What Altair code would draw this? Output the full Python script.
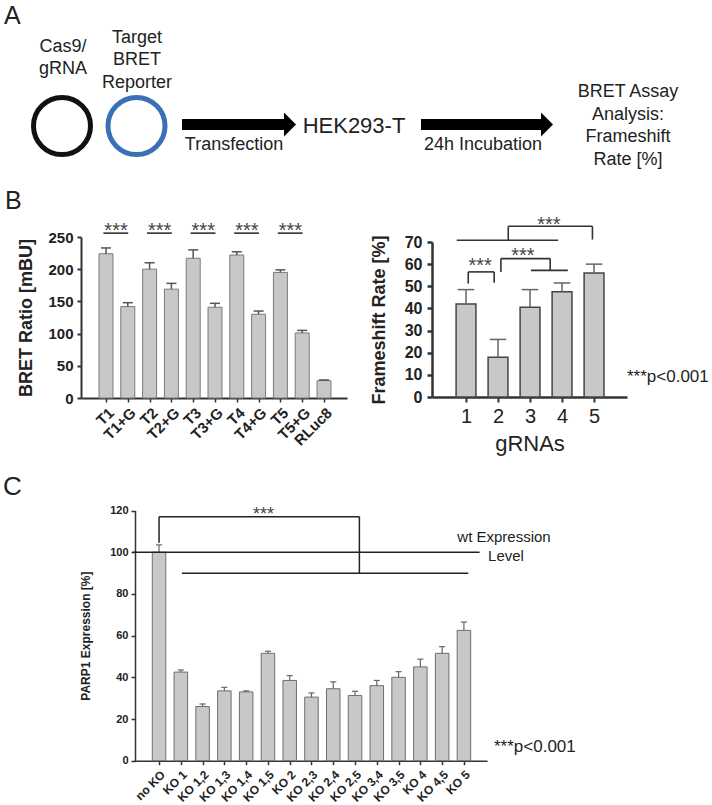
import json
import altair as alt
import pandas as pd

FONT = "Liberation Sans"
INK = "#222222"
AXIS = "#333333"
BAR_FILL = "#c8c8c8"
STAR = "#444444"

# ---------------- data ----------------
# Panel B (left): BRET ratio per reporter construct, mean and SD
bret_labels = ["T1", "T1+G", "T2", "T2+G", "T3", "T3+G", "T4", "T4+G", "T5", "T5+G", "RLuc8"]
bret_values = [224, 142, 200, 169, 217, 141, 222, 130, 195, 101, 27]
bret_errors = [9, 6, 10, 9, 13, 6, 5, 5, 4, 4, 1]
bret_sig_pairs = [("T1", "T1+G"), ("T2", "T2+G"), ("T3", "T3+G"), ("T4", "T4+G"), ("T5", "T5+G")]

# Panel B (right): frameshift rate per gRNA
grna_labels = [1, 2, 3, 4, 5]
fs_values = [42, 18, 40.5, 47.5, 56]
fs_errors = [6.5, 8, 8, 4, 4]

# Panel C: PARP1 expression after single / double knock-outs
ko_labels = ["no KO", "KO 1", "KO 1,2", "KO 1,3", "KO 1,4", "KO 1,5", "KO 2", "KO 2,3",
             "KO 2,4", "KO 2,5", "KO 3,4", "KO 3,5", "KO 4", "KO 4,5", "KO 5"]
parp_values = [100, 42.5, 26, 33.5, 33, 51.5, 38.5, 30.5, 34.5, 31.3, 36, 40, 45, 51.5, 62.5]
parp_errors = [3.5, 1, 1.2, 1.7, 0.5, 1, 2.3, 2, 3.3, 2, 2.5, 2.7, 3.7, 3.2, 4]
wt_level = 100

# significance brackets, in each panel's data units (x = category position)
fs_brackets = [
    (0.71, 70.8, 3.88, 70.8), (2.32, 70.8, 2.32, 77.1), (2.32, 77.1, 4.95, 77.1), (4.95, 77.1, 4.95, 71.1),
    (2.09, 56.5, 2.09, 62.5), (2.09, 62.5, 3.63, 62.5), (3.63, 62.5, 3.63, 57.2), (3.03, 57.2, 4.18, 57.2),
    (1.07, 51.2, 1.07, 56.5), (1.07, 56.5, 1.88, 56.5), (1.88, 56.5, 1.88, 51.6),
]
fs_stars = [(3.59, 75.0), (2.78, 61.1), (1.44, 56.6)]
ko_brackets = [
    (1.0, 104.5, 1.0, 117.0), (1.0, 117.0, 10.2, 117.0), (10.2, 117.0, 10.2, 89.9), (2.05, 89.9, 15.2, 89.9),
]
ko_wt_line = (-0.2, 15.72)
ko_stars = [(5.8, 115.6)]

# ---------------- schematic (panel A) and free text, in page pixels ----------------
center_text = [
    ("Cas9/", 63, 47, 18), ("gRNA", 63, 69, 18),
    ("Target", 137, 38, 18), ("BRET", 137, 60, 18), ("Reporter", 137, 83, 18),
    ("Transfection", 234, 145, 18), ("HEK293-T", 354, 126, 22), ("24h Incubation", 483, 145, 18),
    ("BRET Assay", 628, 92, 18), ("Analysis:", 628, 115, 18), ("Frameshift", 628, 137, 18),
    ("Rate [%]", 628, 160, 18),
    ("wt Expression", 504, 537, 15), ("Level", 506, 556, 15),
]
left_text = [
    ("A", 4, 16, 25), ("B", 5, 201, 25), ("C", 3, 487, 26),
    ("***p<0.001", 627, 377, 17), ("***p<0.001", 494, 747, 17),
]
plasmids = [("#111111", 62, 126), ("#3a70b5", 136.5, 126)]
arrow_shafts = [(182, 286, 124.5), (421, 543, 124.5)]
arrow_heads = [(290, 124.5), (547, 124.5)]
HEAD = "M-0.5,-1L0.5,0L-0.5,1Z"

W, H = 712, 805


def scale(domain, rng):
    return alt.Scale(domain=domain, range=rng, nice=False, zero=False)


PX = scale([0, W], [0, W])
PY = scale([0, H], [0, H])


def canvas():
    ct = pd.DataFrame(center_text, columns=["label", "x", "y", "size"])
    lt = pd.DataFrame(left_text, columns=["label", "x", "y", "size"])
    circ = pd.DataFrame(plasmids, columns=["color", "x", "y"])
    shafts = pd.DataFrame(arrow_shafts, columns=["x1", "x2", "y"])
    heads = pd.DataFrame(arrow_heads, columns=["x", "y"])

    def xy():
        return dict(x=alt.X("x:Q", scale=PX, axis=None), y=alt.Y("y:Q", scale=PY, axis=None))

    t1 = alt.Chart(ct).mark_text(font=FONT, color=INK, align="center", baseline="middle").encode(
        text="label:N", size=alt.Size("size:Q", scale=None), **xy())
    t2 = alt.Chart(lt).mark_text(font=FONT, color=INK, align="left", baseline="middle").encode(
        text="label:N", size=alt.Size("size:Q", scale=None), **xy())
    rings = alt.Chart(circ).mark_point(shape="circle", filled=False, size=3249, strokeWidth=5, opacity=1).encode(
        stroke=alt.Stroke("color:N", scale=None), **xy())
    sh = alt.Chart(shafts).mark_rule(color="#000000", strokeWidth=11, strokeCap="butt").encode(
        x=alt.X("x1:Q", scale=PX, axis=None), x2="x2", y=alt.Y("y:Q", scale=PY, axis=None))
    hd = alt.Chart(heads).mark_point(shape=HEAD, filled=True, size=576, color="#000000", opacity=1,
                                     strokeWidth=0).encode(**xy())
    return alt.layer(rings, sh, hd, t1, t2)


def bars_table(values, errors, half, cap):
    df = pd.DataFrame({"pos": list(range(1, len(values) + 1)), "value": values, "err": errors})
    df["lo"] = df.pos - half
    df["hi"] = df.pos + half
    df["top"] = df.value + df.err
    df["cl"] = df.pos - cap
    df["cr"] = df.pos + cap
    df["base"] = 0
    return df


class Frame:
    """Shared x/y scales and axes of one panel; every layer uses the same ones."""

    def __init__(self, xs, ys, xaxis, yaxis):
        self.xs, self.ys, self.xaxis, self.yaxis = xs, ys, xaxis, yaxis

    def x(self, field):
        return alt.X(f"{field}:Q", scale=self.xs, axis=self.xaxis)

    def y(self, field):
        return alt.Y(f"{field}:Q", scale=self.ys, axis=self.yaxis)


def bar_layers(df, f, stroke, sw, err_color, err_w):
    bars = alt.Chart(df).mark_rect(fill=BAR_FILL, stroke=stroke, strokeWidth=sw).encode(
        x=f.x("lo"), x2="hi", y=f.y("value"), y2="base")
    whisk = alt.Chart(df).mark_rule(color=err_color, strokeWidth=err_w).encode(
        x=f.x("pos"), y=f.y("value"), y2="top")
    caps = alt.Chart(df).mark_rule(color=err_color, strokeWidth=err_w).encode(
        x=f.x("cl"), x2="cr", y=f.y("top"))
    return [bars, whisk, caps]


def segments(rows, f, color=AXIS, width=1.6):
    df = pd.DataFrame(rows, columns=["x1", "y1", "x2", "y2"])
    return alt.Chart(df).mark_rule(color=color, strokeWidth=width).encode(
        x=f.x("x1"), x2="x2", y=f.y("y1"), y2="y2")


def stars(rows, f, size):
    df = pd.DataFrame(rows, columns=["x", "y"]).assign(label="***")
    return alt.Chart(df).mark_text(font=FONT, fontSize=size, color=STAR, align="center",
                                   baseline="alphabetic").encode(
        x=f.x("x"), y=f.y("y"), text="label:N")


def label_expr(labels):
    return f"{json.dumps(labels)}[datum.value - 1]"


# ---------------- panel B, left ----------------
bl = Frame(
    scale([-0.147, 12.055], [81, 347]),
    scale([0, 250], [398, 237]),
    alt.Axis(orient="bottom", offset=398 - H, values=list(range(1, len(bret_labels) + 1)),
             labelExpr=label_expr(bret_labels), labelAngle=-45, labelFontSize=15,
             labelFontWeight="bold", labelPadding=3, tickSize=4, tickWidth=1.5,
             domainWidth=2, labelFlush=False, labelOverlap=False, title=""),
    alt.Axis(orient="left", offset=-81, values=[0, 50, 100, 150, 200, 250], labelFontSize=15,
             labelFontWeight="bold", labelPadding=4, tickSize=4, tickWidth=2, domainWidth=2,
             labelOverlap=False, title="BRET Ratio [mBU]", titleFontSize=18,
             titleFontWeight="bold", titleX=-46),
)
bl_df = bars_table(bret_values, bret_errors, 0.32, 0.23)
bl_sig = []
for a, b in bret_sig_pairs:
    ia, ib = bret_labels.index(a) + 1, bret_labels.index(b) + 1
    bl_sig.append((ia - 0.12, 256, ib + 0.02, 256))
bl_star = [((bret_labels.index(a) + bret_labels.index(b)) / 2 + 1 - 0.04, 250) for a, b in bret_sig_pairs]
panel_bl = alt.layer(
    *bar_layers(bl_df, bl, "#7a7a7a", 1, "#555555", 1.5),
    segments(bl_sig, bl),
    stars(bl_star, bl, 20),
)

# ---------------- panel B, right ----------------
br = Frame(
    scale([-0.0625, 6.03], [432, 627]),
    scale([0, 70], [397, 242]),
    alt.Axis(orient="bottom", offset=397 - H, values=grna_labels, labelFontSize=20,
             labelFontWeight="normal", labelPadding=4, tickSize=5, tickWidth=2, domainWidth=2.5,
             labelFlush=False, labelOverlap=False, title="gRNAs", titleFontSize=22,
             titleFontWeight="normal", titleBaseline="alphabetic", titleY=53),
    alt.Axis(orient="left", offset=-432, values=list(range(0, 71, 10)), labelFontSize=16,
             labelFontWeight="bold", labelPadding=5, tickSize=5, tickWidth=2.5, domainWidth=2.5,
             labelOverlap=False, title="Frameshift Rate [%]", titleFontSize=18,
             titleFontWeight="bold", titleX=-44),
)
br_df = bars_table(fs_values, fs_errors, 0.31, 0.26)
panel_br = alt.layer(
    *bar_layers(br_df, br, "#444444", 1.5, "#666666", 1.5),
    segments(fs_brackets, br),
    stars(fs_stars, br, 20),
)

# ---------------- panel C ----------------
pc = Frame(
    scale([-0.15, 16.06], [134, 487]),
    scale([0, 120], [760.7, 510.5]),
    alt.Axis(orient="bottom", offset=760.7 - H, values=list(range(1, len(ko_labels) + 1)),
             labelExpr=label_expr(ko_labels), labelAngle=-45, labelFontSize=12,
             labelFontWeight="bold", labelPadding=4, tickSize=4, tickWidth=1.5, domainWidth=1.5,
             labelFlush=False, labelOverlap=False, title=""),
    alt.Axis(orient="left", offset=-135, values=list(range(0, 121, 20)), labelFontSize=11,
             labelFontWeight="bold", labelPadding=3, tickSize=4, tickWidth=1.5, domainWidth=1.5,
             labelOverlap=False, title="PARP1 Expression [%]", titleFontSize=12,
             titleFontWeight="bold", titleX=-43),
)
c_df = bars_table(parp_values, parp_errors, 0.31, 0.14)
wt_seg = [(ko_wt_line[0], wt_level, ko_wt_line[1], wt_level)]
panel_c = alt.layer(
    *bar_layers(c_df, pc, "#6e6e6e", 1, "#666666", 1.2),
    segments(ko_brackets + wt_seg, pc, color="#222222", width=1.5),
    stars(ko_stars, pc, 18),
)

chart = (
    alt.layer(canvas(), panel_bl, panel_br, panel_c)
    .resolve_scale(x="independent", y="independent")
    .properties(width=W, height=H, autosize=alt.AutoSizeParams(type="none"), padding=0,
                background="#ffffff")
    .configure_view(stroke=None)
    .configure_axis(grid=False, labelFont=FONT, titleFont=FONT, labelColor=INK, titleColor=INK,
                    domainColor=AXIS, tickColor=AXIS)
)

chart.save("out.html", embed_options={"renderer": "svg", "actions": False})
